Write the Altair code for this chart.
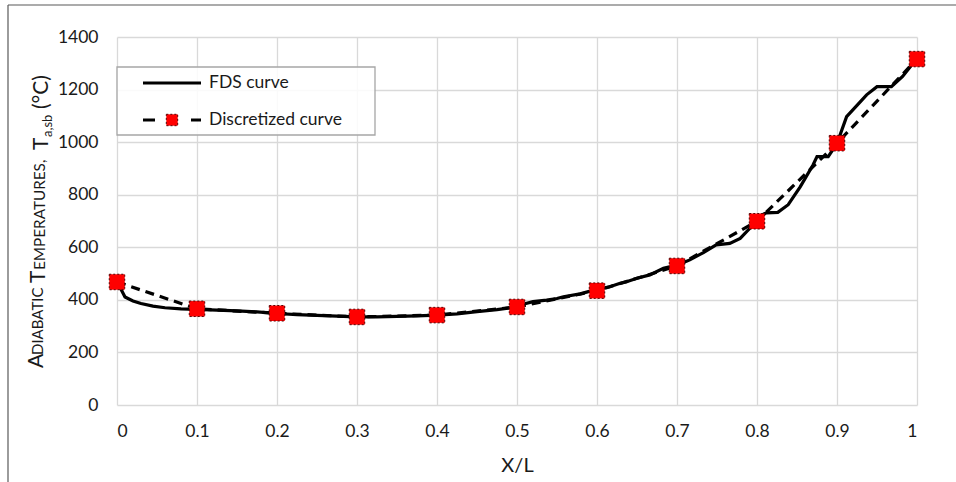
import altair as alt
import pandas as pd

# ---------------- data ----------------
fds_x = [0, 0.005, 0.01, 0.02, 0.03, 0.045, 0.06, 0.08, 0.1, 0.125, 0.15, 0.175,
         0.2, 0.225, 0.25, 0.275, 0.3, 0.325, 0.35, 0.375, 0.4, 0.425, 0.45, 0.475,
         0.5, 0.51, 0.52, 0.537, 0.55, 0.558, 0.579, 0.596, 0.605, 0.616, 0.628,
         0.637, 0.65, 0.666, 0.683, 0.7, 0.716, 0.733, 0.749, 0.766, 0.779, 0.791,
         0.8, 0.812, 0.826, 0.839, 0.854, 0.87, 0.875, 0.889, 0.9, 0.912, 0.925,
         0.937, 0.95, 0.968, 0.982, 0.995, 1.0]
fds_y = [470, 440, 411, 396, 386, 376, 370, 366, 364, 361, 358, 354,
         348, 344, 341, 338, 335, 335, 337, 339, 342, 347, 355, 363,
         373, 385, 393, 399, 405, 412, 423, 437, 443, 450, 462,
         469, 482, 495, 520, 532, 552, 580, 609, 615, 634, 672,
         715, 731, 733, 762, 830, 913, 945, 945, 995, 1097, 1140,
         1180, 1211, 1211, 1250, 1300, 1322]

disc_x = [0, 0.1, 0.2, 0.3, 0.4, 0.5, 0.6, 0.7, 0.8, 0.9, 1.0]
disc_y = [468, 366, 349, 335, 342, 373, 435, 529, 699, 996, 1316]

x_ticks = [0, 0.1, 0.2, 0.3, 0.4, 0.5, 0.6, 0.7, 0.8, 0.9, 1]
y_ticks = [0, 200, 400, 600, 800, 1000, 1200, 1400]

legend_labels = ["FDS curve", "Discretized curve"]
x_title = "X/L"
# y-axis title pieces (small caps emulated by size)
ytitle_parts = ["A", "DIABATIC", "T", "EMPERATURES,", "T", "a,sb", "(°C)"]

fds = pd.DataFrame({"x": fds_x, "y": fds_y})
disc = pd.DataFrame({"x": disc_x, "y": disc_y})

FONT = "Lato"
TXT = "#1a1a1a"
W, H = 800, 368

xs = alt.Scale(domain=[0, 1], nice=False)
ys = alt.Scale(domain=[0, 1400], nice=False)

xenc = alt.X("x:Q", scale=xs,
             axis=alt.Axis(values=x_ticks, format="~g", grid=True, domain=False,
                           ticks=False, labelPadding=17, labelFontSize=17.5,
                           labelFont=FONT, labelColor=TXT, title=x_title,
                           titleFont=FONT, titleFontSize=20, titleFontWeight="normal",
                           titleColor=TXT, titlePadding=16))
yenc = alt.Y("y:Q", scale=ys,
             axis=alt.Axis(values=y_ticks, format="d", grid=True, domain=False,
                           ticks=False, labelPadding=19, labelFontSize=17.5,
                           labelFont=FONT, labelColor=TXT),
             title=None)

fds_line = alt.Chart(fds).mark_line(color="black", strokeWidth=3.2).encode(x=xenc, y=yenc)
disc_line = alt.Chart(disc).mark_line(color="black", strokeWidth=3.2,
                                      strokeDash=[9, 6]).encode(x="x:Q", y="y:Q")
disc_pts = alt.Chart(disc).mark_point(shape="square", filled=True, fill="#ff0000",
                                      size=240, opacity=1, stroke="#5a0000",
                                      strokeWidth=1, strokeDash=[2, 2]).encode(
    x="x:Q", y="y:Q")

one = alt.Data(values=[{"k": 1}])

def vrule(x1, x2, y1, y2, color="black", w=3, dash=None):
    kw = dict(color=color, strokeWidth=w)
    if dash is not None:
        kw["strokeDash"] = dash
    return alt.Chart(one).mark_rule(**kw).encode(
        x=alt.value(x1), x2=alt.value(x2), y=alt.value(y1), y2=alt.value(y2))

def txt(s, x, y, size, angle=0, align="left", baseline="middle"):
    kw = dict(font=FONT, fontSize=size, color=TXT, align=align, baseline=baseline)
    if angle:
        kw["angle"] = angle
    return alt.Chart(one).mark_text(**kw).encode(
        x=alt.value(x), y=alt.value(y), text=alt.value(s))

# legend
leg_box = alt.Chart(one).mark_rect(fill="white", fillOpacity=0.85, stroke="#a6a6a6",
                                   strokeWidth=1.3).encode(
    x=alt.value(0), x2=alt.value(258), y=alt.value(30), y2=alt.value(98))
leg_l1 = vrule(26, 84, 46, 46)
leg_d1 = vrule(26, 38, 83, 83)
leg_d2 = vrule(74, 84, 83, 83)
leg_sq = alt.Chart(one).mark_point(shape="square", filled=True, fill="#ff0000",
                                   size=130, opacity=1, stroke="#5a0000",
                                   strokeWidth=1, strokeDash=[2, 2]).encode(
    x=alt.value(55), y=alt.value(83))
leg_t1 = txt(legend_labels[0], 92, 46, 17.5)
leg_t2 = txt(legend_labels[1], 92, 83, 17.5)

# y title pieces (rotated)
yt = [
    txt(ytitle_parts[0], -74, 331, 21, angle=270, baseline="alphabetic"),
    txt(ytitle_parts[1], -74, 318, 15, angle=270, baseline="alphabetic"),
    txt(ytitle_parts[2], -72, 246, 21, angle=270, baseline="alphabetic"),
    txt(ytitle_parts[3], -72, 233, 15.3, angle=270, baseline="alphabetic"),
    txt(ytitle_parts[4], -69, 113, 21, angle=270, baseline="alphabetic"),
    txt(ytitle_parts[5], -65, 100, 13, angle=270, baseline="alphabetic"),
    txt(ytitle_parts[6], -69, 72, 21, angle=270, baseline="alphabetic"),
]

# outer frame
frame_top = vrule(-109, 845, -32, -32, color="#595959", w=1.2)
frame_left = vrule(-109, -109, -32, 450, color="#595959", w=1.2)

chart = alt.layer(
    fds_line, disc_line, disc_pts,
    leg_box, leg_l1, leg_d1, leg_d2, leg_sq, leg_t1, leg_t2,
    *yt, frame_top, frame_left
).properties(
    width=W, height=H,
    autosize=alt.AutoSizeParams(type="none"),
    padding={"left": 117, "top": 37, "right": 39, "bottom": 77},
).configure_view(stroke=None).configure_axis(gridColor="#d9d9d9", gridWidth=1.3)

chart.save("out.html", embed_options={"renderer": "svg", "actions": False})
